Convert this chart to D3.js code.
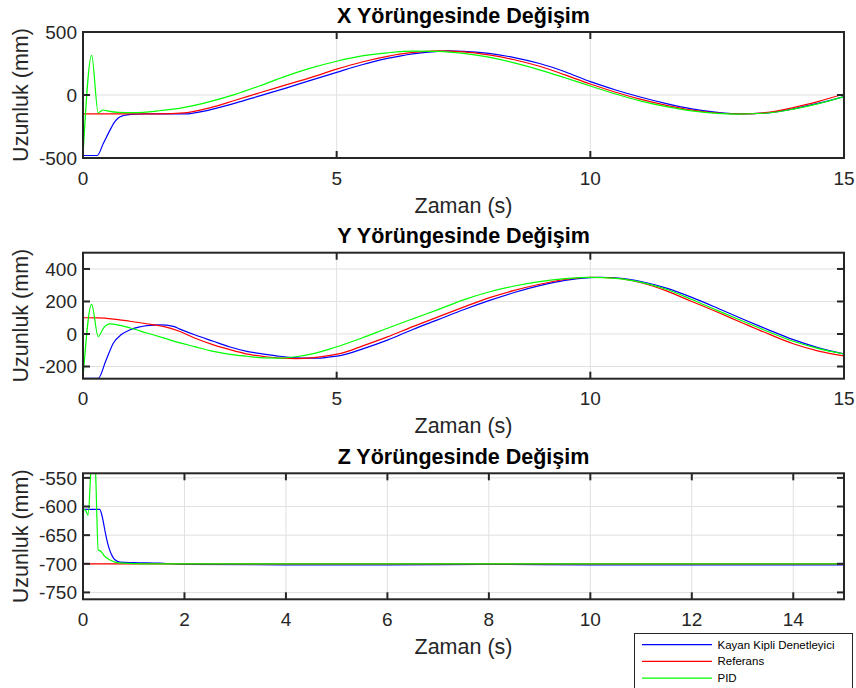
<!DOCTYPE html>
<html>
<head>
<meta charset="utf-8">
<script src="https://cdn.jsdelivr.net/npm/d3@7"></script>
<style>
  body { margin: 0; background: #fff; }
  svg { display: block; }
  text { font-family: "Liberation Sans", Arial, Helvetica, sans-serif; fill: #262626; }
</style>
</head>
<body>
<svg id="chart" width="856" height="688"></svg>
<script>
// ---- series: [time (s), length (mm)] ----
// X trajectory
const xSmc = [[0,-480],[0.28,-480],[0.4,-385],[0.55,-265],[0.62,-215],[0.7,-180],[0.8,-163],[0.95,-153],[1.2,-150],[1.5,-150],[2,-150],[2.5,-118],[3,-65],[3.5,-5],[4,55],[4.5,118],[5,180],[5.5,240],[6,290],[6.5,327],[7,347],[7.2,350],[7.5,347],[8,330],[8.5,297],[9,250],[9.5,185],[10,106],[10.5,40],[11,-18],[11.5,-68],[12,-110],[12.5,-138],[13,-150],[13.5,-142],[14,-110],[14.5,-65],[15,-12]];
const xRef = [[0,-150],[0.5,-150],[1,-150],[1.5,-150],[2,-142],[2.5,-102],[3,-42],[3.5,20],[4,80],[4.5,140],[5,205],[5.5,262],[6,307],[6.5,338],[7,350],[7.5,343],[8,318],[8.5,280],[9,228],[9.5,160],[10,87],[10.5,22],[11,-35],[11.5,-82],[12,-120],[12.5,-143],[13,-150],[13.5,-138],[14,-100],[14.5,-50],[15,8]];
const xPid = [[0,-480],[0.17,315],[0.3,-140],[0.4,-119],[0.5,-128],[0.7,-138],[1,-140],[1.5,-125],[2,-98],[2.5,-52],[3,5],[3.5,75],[4,150],[4.5,215],[5,268],[5.5,310],[6,335],[6.5,349],[7,346],[7.5,330],[8,300],[8.5,255],[9,200],[9.5,137],[10,71],[10.5,8],[11,-48],[11.5,-92],[12,-126],[12.5,-146],[12.9,-151],[13.5,-143],[14,-112],[14.5,-68],[15,-13]];

// Y trajectory
const ySmc = [[0,-273],[0.3,-273],[0.45,-165],[0.6,-55],[0.75,-5],[0.93,26],[1.1,42],[1.26,51],[1.52,56],[1.78,47],[1.91,30],[2.2,-5],[2.57,-45],[2.9,-80],[3.23,-107],[3.6,-125],[3.88,-137],[4.3,-148],[4.6,-149],[4.87,-141],[5.07,-133],[5.5,-93],[6,-38],[6.5,28],[7,88],[7.5,149],[8,205],[8.5,255],[9,297],[9.5,330],[10,347],[10.2,349],[10.5,346],[11,323],[11.5,282],[12,225],[12.5,160],[13,92],[13.5,27],[14,-35],[14.5,-85],[15,-123]];
const yRef = [[0,100],[0.3,99],[0.6,92],[0.9,80],[1.25,63],[1.6,45],[1.9,17],[2.2,-25],[2.6,-70],[3,-105],[3.25,-124],[3.6,-140],[3.9,-148],[4.2,-151],[4.5,-147],[4.87,-132],[5.1,-118],[5.5,-75],[6,-18],[6.5,45],[7,105],[7.5,165],[8,222],[8.5,268],[9,306],[9.5,335],[10,349],[10.5,343],[11,315],[11.5,265],[12,200],[12.5,135],[13,68],[13.5,2],[14,-60],[14.5,-105],[15,-135]];
const yPid = [[0,-273],[0.17,182],[0.3,-16],[0.4,35],[0.53,62],[0.7,55],[0.93,37],[1.26,6],[1.6,-25],[1.91,-55],[2.2,-78],[2.57,-107],[2.9,-125],[3.23,-137],[3.56,-147],[3.88,-148],[4.2,-140],[4.54,-121],[4.87,-92],[5.07,-72],[5.5,-25],[6,35],[6.5,93],[7,150],[7.5,210],[8,258],[8.5,295],[9,322],[9.5,340],[10,348],[10.5,342],[11,318],[11.5,275],[12,212],[12.5,145],[13,80],[13.5,15],[14,-45],[14.5,-90],[15,-123]];

// Z trajectory
const zSmc = [[0,-605],[0.33,-605],[0.38,-618],[0.43,-641],[0.48,-662],[0.53,-677],[0.58,-687],[0.63,-693],[0.73,-697],[1,-698],[1.5,-699],[2,-701],[4,-702],[6,-702],[8,-701],[10,-702],[12,-702],[15,-702]];
const zRef = [[0,-700],[5,-700],[10,-700],[15,-700]];
const zPid = [[0,-604],[0.06,-608],[0.1,-615],[0.15,-545],[0.2,-460],[0.25,-545],[0.3,-676],[0.33,-677],[0.37,-680],[0.42,-686],[0.47,-690],[0.55,-694],[0.63,-697],[0.8,-699],[1.2,-700],[15,-700]];

// ---- axis settings ----
const xDomain = [0, 15];
const xTicksXY = [0, 5, 10, 15];
const xTicksZ = [0, 2, 4, 6, 8, 10, 12, 14];
const yTicksX = [-500, 0, 500];
const yTicksY = [-200, 0, 200, 400];
const yTicksZ = [-750, -700, -650, -600, -550];

const titles = ["X Yörüngesinde Değişim", "Y Yörüngesinde Değişim", "Z Yörüngesinde Değişim"];
const xLabel = "Zaman (s)";
const yLabel = "Uzunluk (mm)";
const legendNames = ["Kayan Kipli Denetleyici", "Referans", "PID"];
const colors = ["#0000ff", "#ff0000", "#00ff00"];

const svg = d3.select("#chart");
const plotLeft = 83, plotRight = 844;

const panels = [
  { top: 32,    bottom: 158,   yDomain: [-500, 500],  yTicks: yTicksX, xTicks: xTicksXY, series: [xSmc, xRef, xPid], title: titles[0] },
  { top: 252.7, bottom: 378.7, yDomain: [-275, 500],  yTicks: yTicksY, xTicks: xTicksXY, series: [ySmc, yRef, yPid], title: titles[1] },
  { top: 473.3, bottom: 599.3, yDomain: [-762, -542], yTicks: yTicksZ, xTicks: xTicksZ,  series: [zSmc, zRef, zPid], title: titles[2] }
];

const axisColor = "#262626";
const gridColor = "#e0e0e0";
const tickLen = 7;

panels.forEach((p, i) => {
  const x = d3.scaleLinear().domain(xDomain).range([plotLeft, plotRight]);
  const y = d3.scaleLinear().domain(p.yDomain).range([p.bottom, p.top]);
  const g = svg.append("g");

  const clipId = "clip" + i;
  svg.append("clipPath").attr("id", clipId)
    .append("rect")
    .attr("x", plotLeft).attr("y", p.top)
    .attr("width", plotRight - plotLeft).attr("height", p.bottom - p.top);

  // grid
  g.append("g").selectAll("line").data(p.xTicks).join("line")
    .attr("x1", d => x(d)).attr("x2", d => x(d))
    .attr("y1", p.top).attr("y2", p.bottom)
    .attr("stroke", gridColor).attr("stroke-width", 1);
  g.append("g").selectAll("line").data(p.yTicks).join("line")
    .attr("x1", plotLeft).attr("x2", plotRight)
    .attr("y1", d => y(d)).attr("y2", d => y(d))
    .attr("stroke", gridColor).attr("stroke-width", 1);

  // data lines
  const line = d3.line().x(d => x(d[0])).y(d => y(d[1])).curve(d3.curveMonotoneX);
  const lines = g.append("g").attr("clip-path", `url(#${clipId})`);
  p.series.forEach((s, k) => {
    lines.append("path").datum(s)
      .attr("d", line)
      .attr("fill", "none")
      .attr("stroke", colors[k])
      .attr("stroke-width", 1.2)
      .attr("stroke-linejoin", "round");
  });

  // box
  g.append("rect")
    .attr("x", plotLeft).attr("y", p.top)
    .attr("width", plotRight - plotLeft).attr("height", p.bottom - p.top)
    .attr("fill", "none").attr("stroke", axisColor).attr("stroke-width", 2);

  // ticks (inward, all four sides)
  const tk = g.append("g").attr("stroke", axisColor).attr("stroke-width", 2);
  p.xTicks.forEach(t => {
    tk.append("line").attr("x1", x(t)).attr("x2", x(t)).attr("y1", p.bottom).attr("y2", p.bottom - tickLen);
    tk.append("line").attr("x1", x(t)).attr("x2", x(t)).attr("y1", p.top).attr("y2", p.top + tickLen);
  });
  p.yTicks.forEach(t => {
    tk.append("line").attr("x1", plotLeft).attr("x2", plotLeft + tickLen).attr("y1", y(t)).attr("y2", y(t));
    tk.append("line").attr("x1", plotRight).attr("x2", plotRight - tickLen).attr("y1", y(t)).attr("y2", y(t));
  });

  // tick labels
  g.append("g").selectAll("text").data(p.xTicks).join("text")
    .attr("x", d => x(d)).attr("y", p.bottom + 26.5)
    .attr("text-anchor", "middle").style("font-size", "19px")
    .text(d => d);
  g.append("g").selectAll("text").data(p.yTicks).join("text")
    .attr("x", plotLeft - 6).attr("y", d => y(d) + 6.8)
    .attr("text-anchor", "end").style("font-size", "19px")
    .text(d => d);

  // title and axis labels
  g.append("text")
    .attr("x", (plotLeft + plotRight) / 2).attr("y", p.top - 9.3)
    .attr("text-anchor", "middle")
    .style("font-size", "21.5px").style("font-weight", "bold").style("fill", "#000")
    .text(p.title);
  g.append("text")
    .attr("x", (plotLeft + plotRight) / 2).attr("y", p.bottom + 54.7)
    .attr("text-anchor", "middle").style("font-size", "21.5px")
    .text(xLabel);
  g.append("text")
    .attr("transform", `translate(28,${(p.top + p.bottom) / 2}) rotate(-90)`)
    .attr("text-anchor", "middle").style("font-size", "21.5px")
    .text(yLabel);
});

// legend
const lg = svg.append("g");
lg.append("rect")
  .attr("x", 634.5).attr("y", 633.5).attr("width", 218).attr("height", 70)
  .attr("fill", "#fff").attr("stroke", axisColor).attr("stroke-width", 1);
legendNames.forEach((name, k) => {
  const ly = 644.7 + k * 16.7;
  lg.append("line").attr("x1", 642).attr("x2", 712).attr("y1", ly).attr("y2", ly)
    .attr("stroke", colors[k]).attr("stroke-width", 1.2);
  lg.append("text").attr("x", 717.5).attr("y", ly + 4)
    .style("font-size", "11.5px").style("fill", "#000").text(name);
});
</script>
</body>
</html>
